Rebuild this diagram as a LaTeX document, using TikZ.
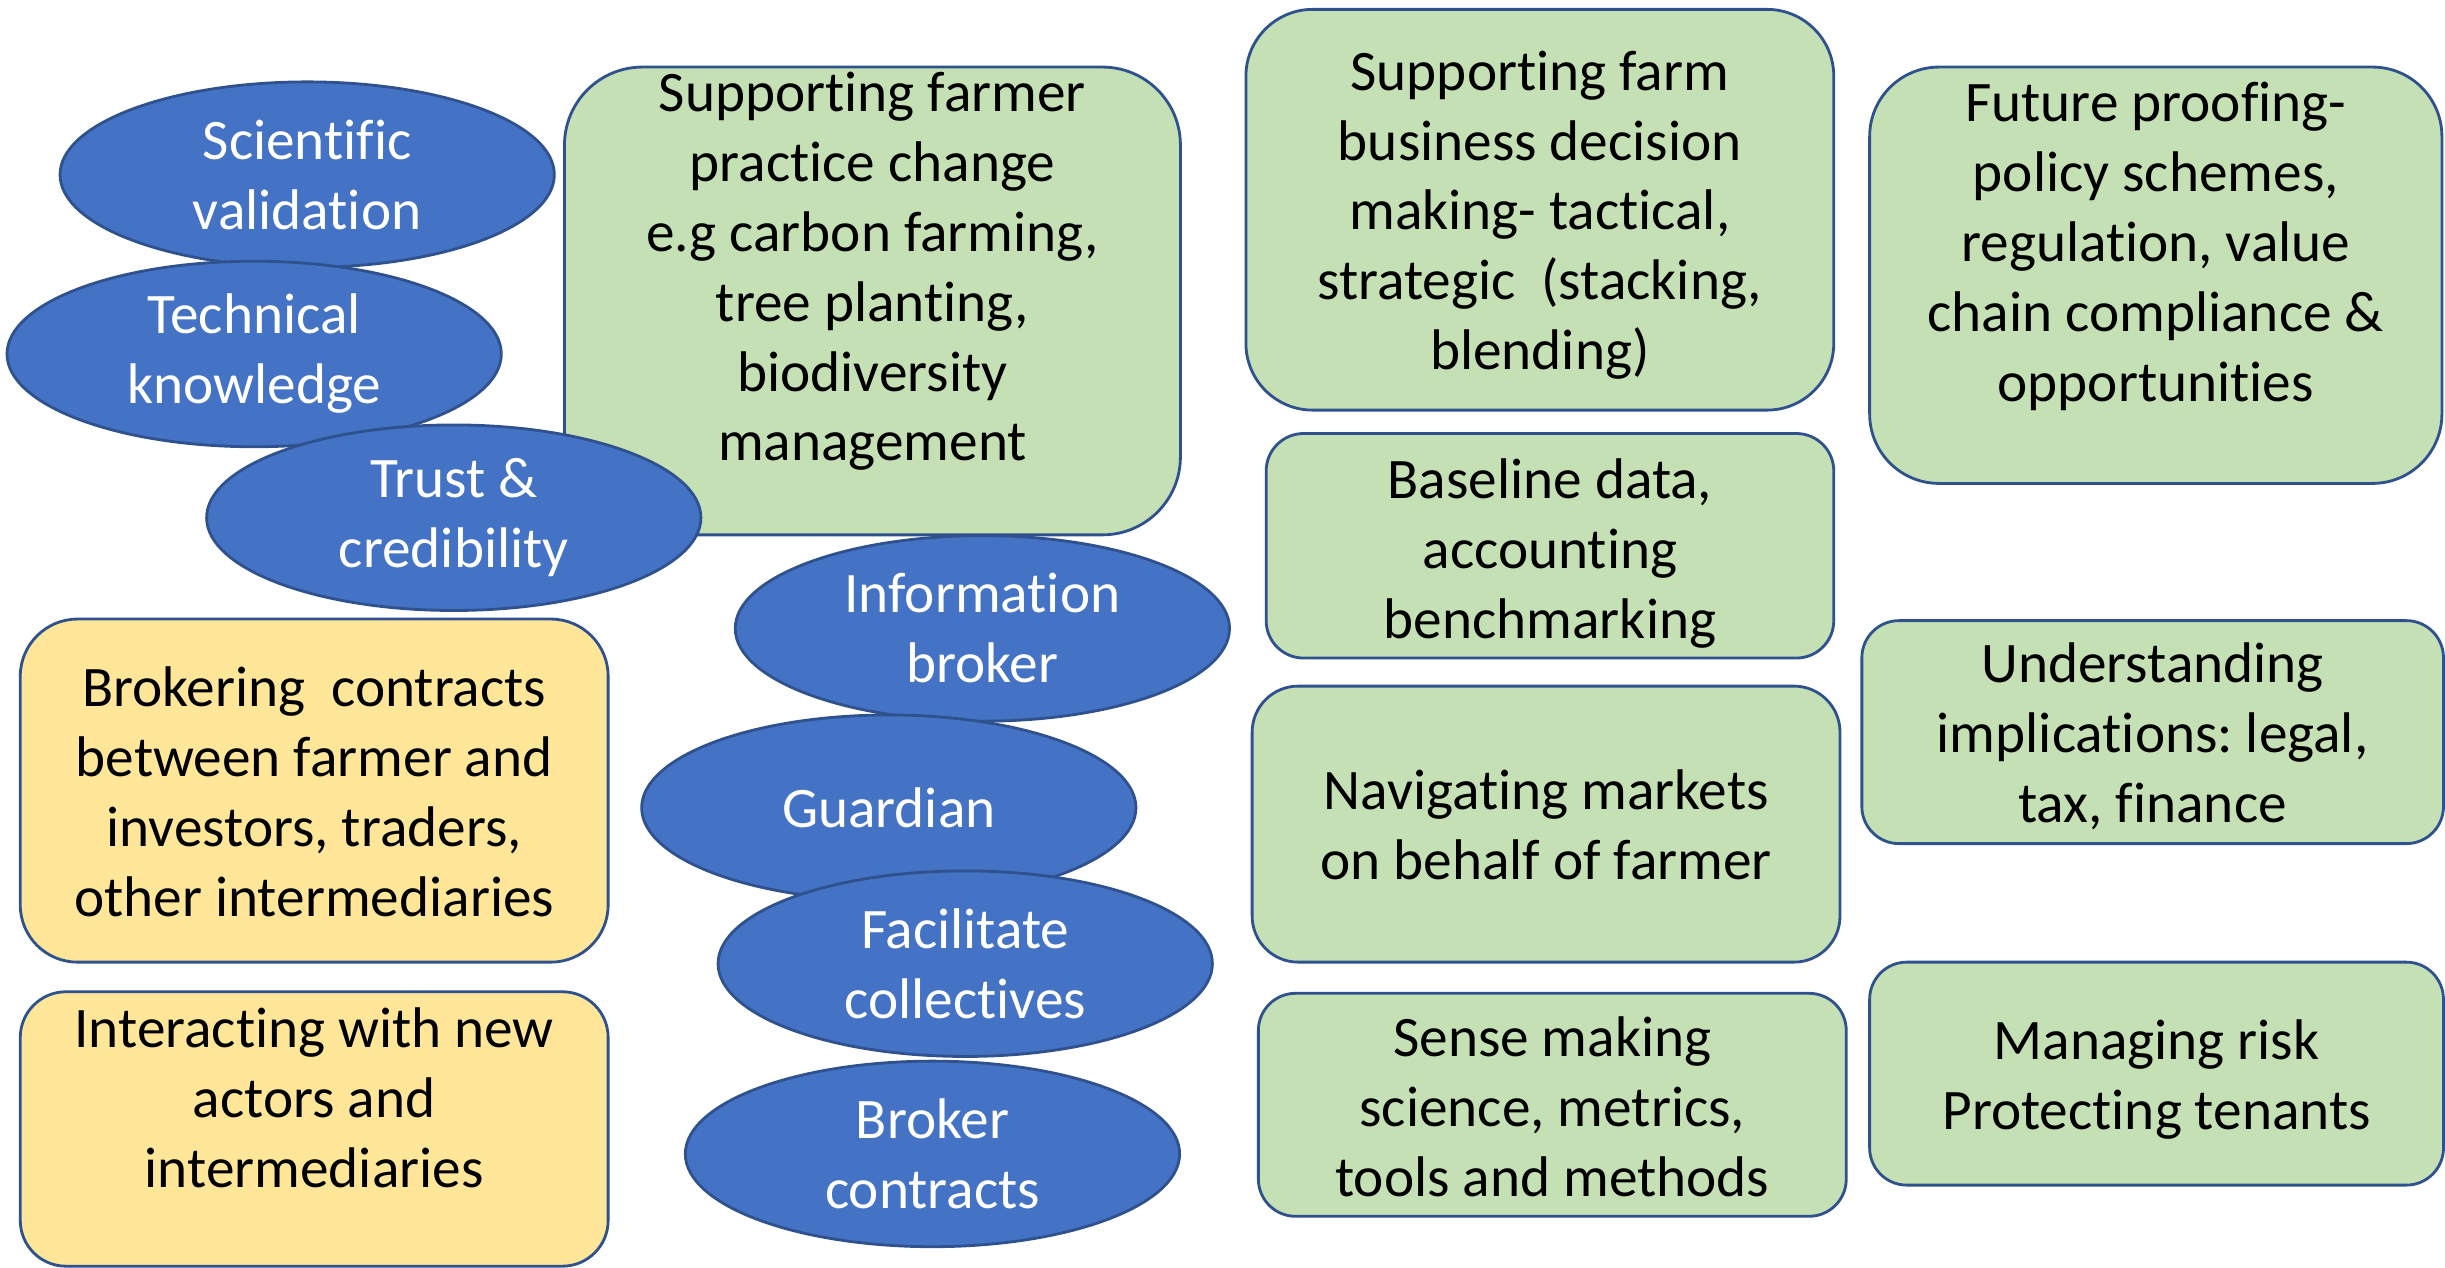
\documentclass[tikz,border=0pt]{standalone}
\usepackage{fontspec}
\setmainfont{Carlito}[RawFeature={-liga;-clig;-calt;-dlig}]
\frenchspacing
\usetikzlibrary{shapes.geometric}
\definecolor{bluefill}{HTML}{4472C4}
\definecolor{blueline}{HTML}{2F528F}
\definecolor{greenfill}{HTML}{C5E0B4}
\definecolor{yellowfill}{HTML}{FFE699}

% one drawing unit = 0.015593cm
\newcommand\panel[8]{%
  % #1 name, #2 style, #3 left, #4 top, #5 right, #6 bottom, #7 text centre y, #8 text
  \pgfmathsetmacro\pw{#5-#3}%
  \pgfmathsetmacro\ph{#6-#4}%
  \pgfmathsetlengthmacro\pr{0.1667*min(\pw,\ph)*0.015593cm}%
  \node[#2, minimum width=\pw*0.015593cm, minimum height=\ph*0.015593cm,
        rounded corners=\pr] (#1) at ({(#3+#5)/2},{(#4+#6)/2}) {};
  \node[boxtext] (#1-text) at ({(#3+#5)/2},#7) {#8};
}

\begin{document}
\begin{tikzpicture}[x=0.015593cm, y=-0.015593cm,
  greenbox/.style={rectangle, fill=greenfill, draw=blueline, line width=0.8pt, inner sep=0pt},
  yellowbox/.style={rectangle, fill=yellowfill, draw=blueline, line width=0.8pt, inner sep=0pt},
  boxtext/.style={align=center, inner sep=0pt, font=\fontsize{16.3}{19.9}\selectfont},
  role/.style={ellipse, fill=bluefill, draw=blueline, line width=0.8pt,
    minimum width=317*0.015593cm, minimum height=119*0.015593cm, inner sep=0pt,
    text=white, align=center, font=\fontsize{16.3}{19.9}\selectfont}]
\useasboundingbox (0,0) rectangle (1568,813);

% service panels
\panel{practice}{greenbox}{362}{43}{757}{343}{174}{Supporting farmer\\practice change\\e.g carbon farming,\\tree planting,\\biodiversity\\management}
\panel{decision}{greenbox}{799}{6}{1176}{263}{138}{Supporting farm\\business decision\\making- tactical,\\strategic\ \ (stacking,\\blending)}
\panel{future}{greenbox}{1199}{43}{1566}{310}{158}{Future proofing-\\policy schemes,\\regulation, value\\chain compliance \&\\opportunities}
\panel{baseline}{greenbox}{812}{278}{1176}{422}{355}{Baseline data,\\accounting\\benchmarking}
\panel{implications}{greenbox}{1194}{398}{1567}{541}{472}{Understanding\\implications: legal,\\tax, finance}
\panel{markets}{greenbox}{803}{440}{1180}{617}{529}{Navigating markets\\on behalf of farmer}
\panel{sense}{greenbox}{807}{637}{1184}{780}{710}{Sense making\\science, metrics,\\tools and methods}
\panel{risk}{greenbox}{1199}{617}{1567}{760}{692}{Managing risk\\Protecting tenants}
\panel{brokering}{yellowbox}{13}{397}{390}{617}{508}{Brokering\ \ contracts\\between farmer and\\investors, traders,\\other intermediaries}
\panel{interacting}{yellowbox}{13}{636}{390}{812}{704}{Interacting with new\\actors and\\intermediaries}

% intermediary roles
\node[role] (scientific) at (197,112) {Scientific\\validation};
\node[role] (technical) at (163,227) {Technical\\knowledge};
\node[role] (trust) at (291,332) {Trust \&\\credibility};
\node[role] (info) at (630,403) {Information\\broker};
\node[role] (guardian) at (570,518) {Guardian};
\node[role] (collectives) at (619,618) {Facilitate\\collectives};
\node[role] (contracts) at (598,740) {Broker\\contracts};
\end{tikzpicture}
\end{document}
